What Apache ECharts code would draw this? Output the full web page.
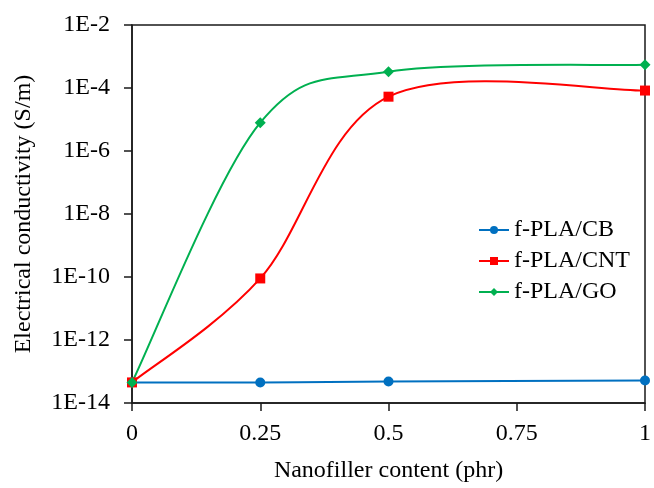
<!DOCTYPE html>
<html>
<head>
<meta charset="utf-8">
<script src="https://cdn.jsdelivr.net/npm/echarts@6/dist/echarts.min.js"></script>
<style>
  html, body { margin: 0; padding: 0; background: #fff; }
  #chart { width: 654px; height: 488px; }
</style>
</head>
<body>
<div id="chart"></div>
<script>
// Filler content (phr)
const content = [0, 0.25, 0.5, 1];
// Electrical conductivity (S/m) for each filler type
const cbValues  = [4.5e-14, 4.5e-14, 4.8e-14, 5.2e-14];
const cntValues = [4.5e-14, 9.0e-11, 5.3e-5, 8.3e-5];
const goValues  = [4.5e-14, 7.9e-6, 3.3e-4, 5.5e-4];
const seriesNames = ['f-PLA/CB', 'f-PLA/CNT', 'f-PLA/GO'];
const seriesColors = ['#0070C0', '#FF0000', '#00B050'];
const xTicks = [0, 0.25, 0.5, 0.75, 1];

const font = 'Liberation Serif';
const fontSize = 24;

function pairs(vals) {
  return content.map((x, i) => [x, vals[i]]);
}

// Cubic Bezier segments through pixel points, Catmull-Rom style
// (tangent = 1/6 of the neighbour chord, limited to half the segment).
function smoothSegments(pts) {
  const dist = (a, b) => Math.hypot(b[0] - a[0], b[1] - a[1]);
  const segs = [];
  for (let i = 0; i < pts.length - 1; i++) {
    const p0 = pts[i - 1] || pts[i];
    const p1 = pts[i];
    const p2 = pts[i + 1];
    const p3 = pts[i + 2] || pts[i + 1];
    const d02 = dist(p0, p2), d12 = dist(p1, p2), d13 = dist(p1, p3);
    const f1 = (d02 === 0 || d02 / 6 < d12 / 2) ? 1 / 6 : d12 / (2 * d02);
    const f2 = (d13 === 0 || d13 / 6 < d12 / 2) ? 1 / 6 : d12 / (2 * d13);
    segs.push({
      x1: p1[0], y1: p1[1],
      cpx1: p1[0] + f1 * (p2[0] - p0[0]), cpy1: p1[1] + f1 * (p2[1] - p0[1]),
      cpx2: p2[0] - f2 * (p3[0] - p1[0]), cpy2: p2[1] - f2 * (p3[1] - p1[1]),
      x2: p2[0], y2: p2[1]
    });
  }
  return segs;
}

// Smoothed curve drawn once per series from its data through the axes.
function curveSeries(name, vals, color, z) {
  return {
    name: name + ' curve',
    type: 'custom',
    data: pairs(vals),
    z: z,
    silent: true,
    encode: { x: 0, y: 1 },
    renderItem: function (params, api) {
      if (params.dataIndex !== 0) return null;
      const pts = content.map((x, i) => api.coord([x, vals[i]]));
      return {
        type: 'group',
        children: smoothSegments(pts).map(s => ({
          type: 'bezierCurve',
          shape: s,
          style: { stroke: color, lineWidth: 2, fill: null }
        }))
      };
    }
  };
}

// Markers (and legend entries) for each series.
function markerSeries(name, vals, color, symbol, size, z) {
  return {
    name: name,
    type: 'line',
    data: pairs(vals),
    z: z,
    symbol: symbol,
    symbolSize: size,
    itemStyle: { color: color },
    lineStyle: { color: color, width: 2, opacity: 0 },
    emphasis: { disabled: true }
  };
}

const chart = echarts.init(document.getElementById('chart'), null, { renderer: 'canvas' });

chart.setOption({
  animation: false,
  backgroundColor: '#fff',
  grid: {
    left: 132, right: 5, top: 25, bottom: 84,
    show: true, borderColor: '#1a1a1a', borderWidth: 1.5,
    containLabel: false
  },
  legend: {
    orient: 'vertical',
    left: 473, top: 213,
    itemWidth: 30, itemHeight: 10, itemGap: 7,
    data: seriesNames.map((n, i) => ({
      name: n,
      lineStyle: { color: seriesColors[i], width: 2, opacity: 1 }
    })),
    textStyle: { fontFamily: font, fontSize: fontSize, color: '#000', lineHeight: 24 }
  },
  xAxis: {
    type: 'value',
    min: 0, max: 1, interval: 0.25,
    name: 'Nanofiller content (phr)',
    nameLocation: 'middle', nameGap: 56,
    nameTextStyle: { fontFamily: font, fontSize: fontSize, color: '#000', verticalAlign: 'top' },
    axisLine: { show: true, lineStyle: { color: '#1a1a1a', width: 1.5 } },
    axisTick: { show: true, inside: false, length: 8, lineStyle: { color: '#1a1a1a', width: 1.5 } },
    axisLabel: {
      fontFamily: font, fontSize: fontSize, color: '#000', margin: 19,
      formatter: v => {
        const t = xTicks.find(k => Math.abs(k - v) < 1e-9);
        return t === undefined ? '' : String(t);
      }
    },
    splitLine: { show: false }
  },
  yAxis: {
    type: 'log',
    logBase: 100,
    min: 1e-14, max: 1e-2,
    name: 'Electrical conductivity (S/m)',
    nameLocation: 'middle', nameGap: 96,
    nameTextStyle: { fontFamily: font, fontSize: fontSize, color: '#000' },
    axisLine: { show: true, lineStyle: { color: '#1a1a1a', width: 1.5 } },
    axisTick: { show: true, inside: false, length: 8, lineStyle: { color: '#1a1a1a', width: 1.5 } },
    minorTick: { show: false },
    axisLabel: {
      fontFamily: font, fontSize: fontSize, color: '#000', margin: 22,
      formatter: v => '1E' + Math.round(Math.log10(v))
    },
    splitLine: { show: false }
  },
  series: [
    markerSeries(seriesNames[0], cbValues,  seriesColors[0], 'circle',  10, 10),
    markerSeries(seriesNames[1], cntValues, seriesColors[1], 'rect',    10, 11),
    markerSeries(seriesNames[2], goValues,  seriesColors[2], 'diamond', 11, 12),
    curveSeries(seriesNames[0], cbValues,  seriesColors[0], 3),
    curveSeries(seriesNames[1], cntValues, seriesColors[1], 4),
    curveSeries(seriesNames[2], goValues,  seriesColors[2], 5)
  ]
});
</script>
</body>
</html>
